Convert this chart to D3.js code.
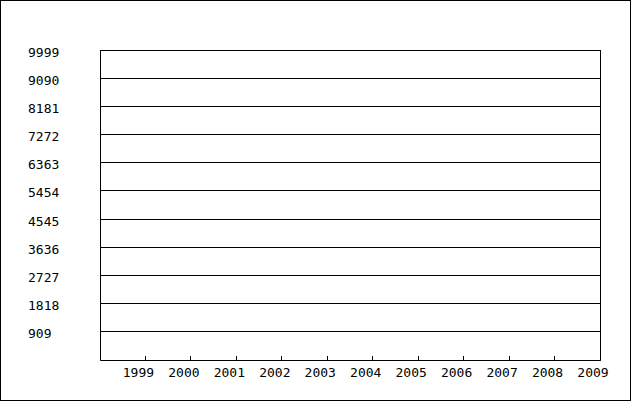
<!DOCTYPE html>
<html>
<head>
<meta charset="utf-8">
<script src="https://cdn.jsdelivr.net/npm/d3@7"></script>
<style>
  html, body { margin: 0; padding: 0; background: #fff; }
  svg { display: block; }
  text { font-family: "DejaVu Sans Mono", monospace; font-size: 13px; fill: #000; }
</style>
</head>
<body>
<script>
const years = [1999, 2000, 2001, 2002, 2003, 2004, 2005, 2006, 2007, 2008, 2009];
const yTicks = [909, 1818, 2727, 3636, 4545, 5454, 6363, 7272, 8181, 9090, 9999];
const xDomain = [1998, 2009];
const yDomain = [0, 9999];

const W = 635, H = 405;
const svg = d3.select("body").append("svg").attr("width", W).attr("height", H);

// outer border
svg.append("rect").attr("x", 0.5).attr("y", 0.5).attr("width", 630).attr("height", 400)
  .attr("fill", "#fff").attr("stroke", "#000").attr("stroke-width", 1);

const x = d3.scaleLinear().domain(xDomain).range([100, 600]);
const y = d3.scaleLinear().domain(yDomain).range([360, 50]);
const px = v => Math.floor(v) + 0.5;

const g = svg.append("g");

// gridlines
g.selectAll("line.grid").data(yTicks).join("line")
  .attr("class", "grid")
  .attr("x1", x(xDomain[0])).attr("x2", x(xDomain[1]) + 1)
  .attr("y1", d => px(y(d))).attr("y2", d => px(y(d)))
  .attr("stroke", "#000").attr("stroke-width", 1);

// plot frame (left, bottom, right)
g.append("path")
  .attr("d", `M${px(x(xDomain[0]))},${px(y(yDomain[1]))}V${px(y(yDomain[0]))}H${px(x(xDomain[1]))}V${px(y(yDomain[1]))}`)
  .attr("fill", "none").attr("stroke", "#000").attr("stroke-width", 1);

// x ticks
g.selectAll("line.xtick").data(years).join("line")
  .attr("class", "xtick")
  .attr("x1", d => px(x(d))).attr("x2", d => px(x(d)))
  .attr("y1", px(y(0))).attr("y2", px(y(0)) - 4.5)
  .attr("stroke", "#000").attr("stroke-width", 1);

// x labels
g.selectAll("text.xl").data(years).join("text")
  .attr("class", "xl")
  .attr("x", d => x(d) - 7).attr("y", 377)
  .attr("text-anchor", "middle")
  .text(d => d);

// y labels
g.selectAll("text.yl").data(yTicks).join("text")
  .attr("class", "yl")
  .attr("x", 28).attr("y", d => Math.floor(y(d)) + 7)
  .attr("text-anchor", "start")
  .text(d => d);
</script>
</body>
</html>
